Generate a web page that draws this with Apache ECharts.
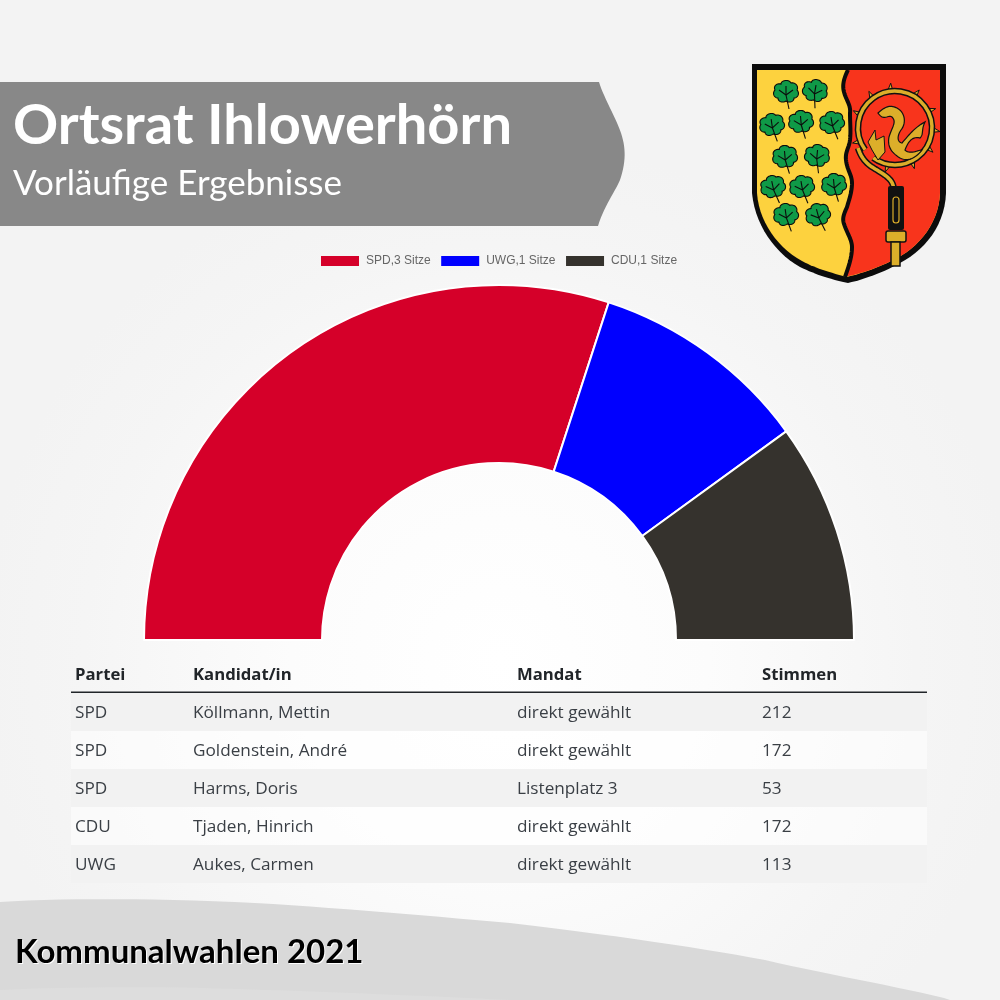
<!DOCTYPE html>
<html><head><meta charset="utf-8">
<style>html,body{margin:0;padding:0;background:#f3f3f3}#c{width:1000px;height:1000px}</style>
<script src="https://cdn.jsdelivr.net/npm/echarts@6/dist/echarts.min.js"></script>
</head><body><div id="c"></div>
<script>
const parties = ['SPD','UWG','CDU'];
const seats = [3,1,1];
const partyColors = ['#d50029','#0000ff','#35322d'];
const tableHeader = ['Partei','Kandidat/in','Mandat','Stimmen'];
const rowParty = ['SPD','SPD','SPD','CDU','UWG'];
const rowName = ['Köllmann, Mettin','Goldenstein, André','Harms, Doris','Tjaden, Hinrich','Aukes, Carmen'];
const rowMandate = ['direkt gewählt','direkt gewählt','Listenplatz 3','direkt gewählt','direkt gewählt'];
const rowVotes = [212,172,53,172,113];
const titleText = 'Ortsrat Ihlowerhörn';
const subtitleText = 'Vorläufige Ergebnisse';
const footerText = 'Kommunalwahlen 2021';

const seatNames = parties.map((p,i)=>p+','+seats[i]+' Sitze');
const g = [];
// turn an "M L C Z" outline into polygon / polyline elements (the graphic component has no path type)
function outline(d,style,z){
  const t=d.trim().split(/\s+|(?=[MLCZ])|(?<=[MLCZ])/).filter(Boolean);
  const out=[];let pts=[],i=0,cur=null,closed=false;
  const flush=()=>{if(pts.length>1){
    if(closed) out.push({type:'polygon',z,shape:{points:pts},style:Object.assign({},style)});
    else out.push({type:'polyline',z,shape:{points:pts},style:Object.assign({},style,{fill:null})});
  }pts=[];closed=false;};
  while(i<t.length){
    const c=t[i++];
    if(c==='M'){flush();cur=[+t[i],+t[i+1]];i+=2;pts.push(cur);}
    else if(c==='L'){cur=[+t[i],+t[i+1]];i+=2;pts.push(cur);}
    else if(c==='C'){
      const [a,b,e,f,x,y]=t.slice(i,i+6).map(Number);i+=6;
      const p0=cur;
      for(let k=1;k<=14;k++){const u=k/14,v=1-u;
        pts.push([v*v*v*p0[0]+3*v*v*u*a+3*v*u*u*e+u*u*u*x, v*v*v*p0[1]+3*v*v*u*b+3*v*u*u*f+u*u*u*y]);}
      cur=[x,y];
    } else if(c==='Z'){closed=true;flush();}
  }
  flush();
  return out;
}
const addPath=(d,style,z)=>outline(d,style,z).forEach(e=>g.push(e));
// background
g.push({type:'rect',z:-10,shape:{x:0,y:0,width:1000,height:1000},style:{fill:{type:'radial',x:0.5,y:0.66,r:0.52,colorStops:[{offset:0,color:'#ffffff'},{offset:0.4,color:'#fcfcfc'},{offset:0.8,color:'#f5f5f5'},{offset:1,color:'#f3f3f3'}]}}});
// footer
addPath('M0 902 C60 898 160 898 255 903 C340 908 430 916 510 923 C620 936 700 948 765 960 C830 975 890 985 944 998 L950 1000 L0 1000 Z',{fill:'#d9d9d9'},-9);
addPath('M0 990 C60 987 150 986 240 989 C330 992 430 996 510 1000 L0 1000 Z',{fill:'#dddddd'},-9);
// banner
addPath('M0 82 L599 82 C603 96 616 118 621 133 C626 148 626 162 620 180 C615 192 604 206 598 226 L0 226 Z',{fill:'#888888'},-8);
g.push({type:'text',z:5,x:13,y:97.5,style:{text:titleText,font:'bold 56px Lato',fill:'#fff'}});
g.push({type:'text',z:5,x:13,y:166.4,style:{text:subtitleText,font:'35px Lato',fill:'#fff'}});
g.push({type:'text',z:5,x:16,y:936.5,style:{text:footerText,font:'bold 33px Lato',fill:'#fff'}});
g.push({type:'text',z:6,x:15,y:935.6,style:{text:footerText,font:'bold 33px Lato',fill:'#000'}});
// table
const colX=[75,193,517,762];
g.push({type:'line',z:-4,shape:{x1:71,y1:882,x2:927,y2:882},style:{stroke:'#e6e6e6',lineWidth:1.5}});
g.push({type:'line',z:-3,shape:{x1:71,y1:692.3,x2:927,y2:692.3},style:{stroke:'#212529',lineWidth:1.5}});
const tf='17.2px "Open Sans"';
tableHeader.forEach((h,j)=>g.push({type:'text',z:5,x:colX[j],y:675.5,style:{text:h,font:'bold 16.7px "Open Sans"',fill:'#212529',textVerticalAlign:'middle'}}));
rowParty.forEach((p,i)=>{
  const y=693+i*38;
  g.push({type:'rect',z:-4,shape:{x:71,y:y,width:856,height:38},style:{fill:i%2===0?'#f2f2f2':'rgba(255,255,255,0.5)'}});
  [p,rowName[i],rowMandate[i],String(rowVotes[i])].forEach((t,j)=>g.push({type:'text',z:5,x:colX[j],y:y+20.5,style:{text:t,font:tf,fill:'#3a3f45',textVerticalAlign:'middle'}}));
});
// coat of arms
const Z=12;
const wave='C844 78 842 85 844 92 C846 100 851 105 850 113 C850 125 851 130 850 140 C849 148 845 152 846 160 C847 170 852 175 852 183 C852 192 849 200 847 207 C844 214 842 218 844 224 C847 233 852 240 852 247 C852 258 848 268 845 277';
addPath('M752 64 L946 64 L946 193 C945 225 925 250 900 263 C882 273 865 279 848 283 C825 278 815 274 800 267 C775 253 755 225 752 193 Z',{fill:'#0c0c0c'},Z);
addPath('M757 70 L940 70 L940 193 C939 222 920 246 897 258 C880 267 863 273 847 277 C828 272 815 268 802 261 C778 248 759 222 757 193 Z',{fill:'#fdd23e'},Z+1);
addPath('M848 70 '+wave+' C863 273 880 267 897 258 C920 246 939 222 940 193 L940 70 Z',{fill:'#f8341c'},Z+1);
addPath('M848 70 '+wave,{stroke:'#0c0c0c',lineWidth:4},Z+2);
const leaves=[[786,92,0],[815,91,10],[772,125,-8],[801,122,-5],[832,123,-10],[785,157,-5],[817,156,5],[773,187,-12],[802,187,-10],[834,185,-5],[786,215,-8],[818,215,-15]];
const leafD='M0 9 C-3 11 -8 10 -8 6 C-12 6 -14 1 -11 -2 C-13 -6 -9 -9 -5 -8 C-5 -12 3 -13 5 -9 C9 -10 13 -6 11 -2 C14 1 12 6 8 6 C8 10 3 11 0 9 Z M0 -6 L0 3 M-7 -2 L0 3 M7 -2 L0 3 M0 3 L3 17';
leaves.forEach(l=>g.push({type:'group',x:l[0],y:l[1],rotation:-l[2]*Math.PI/180,children:outline(leafD,{fill:'#0f9a47',stroke:'#0c0c0c',lineWidth:1.1},Z+2)}));
// crozier
const ringBlack={stroke:'#111',lineWidth:6.5,fill:null}, ringGold={stroke:'#dcae2a',lineWidth:3.5,fill:null};
const hook='M858 148 C862 160 868 165 877 170 C888 177 893 180 894 190';
// thorns
const cx=895, cy=128, R=37;
[200,232,262,300,332,2,30,62,100,158].forEach(a=>{
  const r=a*Math.PI/180, c=Math.cos(r), s=Math.sin(r), n=[-s,c];
  g.push({type:'polygon',z:Z+3,shape:{points:[[cx+(R-1)*c+3.2*n[0],cy+(R-1)*s+3.2*n[1]],[cx+(R+8)*c+2*n[0],cy+(R+8)*s+2*n[1]],[cx+(R-1)*c-3.2*n[0],cy+(R-1)*s-3.2*n[1]]]},style:{fill:'#dcae2a',stroke:'#111',lineWidth:1}});
});
[ringBlack,ringGold].forEach((s,k)=>{
  g.push({type:'arc',z:Z+4+k,shape:{cx,cy,r:R,startAngle:Math.PI*0.8,endAngle:Math.PI*2.7,clockwise:true},style:s});
  addPath(hook,s,Z+4+k);
});
// inner dragon
addPath('M878 113 C888 104 892 106 897 108 C906 113 906 124 901 130 C897 136 897 142 902 143 C908 136 915 127 925 122 C921 130 924 134 920 138 C912 136 908 142 905 150 C910 155 918 150 922 150 C916 158 908 162 900 158 C892 153 887 147 889 137 C892 127 897 122 892 117 C888 114 884 122 878 113 Z',{fill:'#dcae2a',stroke:'#111',lineWidth:1.2},Z+6);
addPath('M868 142 L875 130 L876 140 L884 136 L885 152 L878 160 L872 150 Z',{fill:'#dcae2a',stroke:'#111',lineWidth:1},Z+6);
// handle
g.push({type:'rect',z:Z+6,shape:{x:888,y:186,width:16,height:44,r:2},style:{fill:'#111'}});
g.push({type:'rect',z:Z+7,shape:{x:893,y:197,width:6,height:26,r:3},style:{fill:'#111',stroke:'#dcae2a',lineWidth:1.2}});
g.push({type:'rect',z:Z+6,shape:{x:886,y:231,width:20,height:11,r:2},style:{fill:'#dcae2a',stroke:'#111',lineWidth:1.5}});
g.push({type:'rect',z:Z+6,shape:{x:891,y:242,width:9,height:24},style:{fill:'#dcae2a',stroke:'#111',lineWidth:1.5}});

const chart=echarts.init(document.getElementById('c'));
chart.setOption({
  animation:false,
  backgroundColor:'transparent',
  graphic:{elements:g},
  legend:{left:321,top:255,itemWidth:38,itemHeight:10,itemGap:10.5,icon:'rect',padding:0,
    itemStyle:{borderWidth:0},
    data:seatNames,textStyle:{fontFamily:'Liberation Sans',fontSize:12,color:'#666',padding:[0,0,2,2]}},
  series:[{type:'pie',center:[499,640],radius:[177,355],startAngle:180,endAngle:0,clockwise:true,z:3,
    silent:true,label:{show:false},labelLine:{show:false},
    itemStyle:{borderColor:'#fff',borderWidth:2},
    color:partyColors,
    data:seatNames.map((n,i)=>({name:n,value:seats[i]}))}]
});
</script></body></html>
